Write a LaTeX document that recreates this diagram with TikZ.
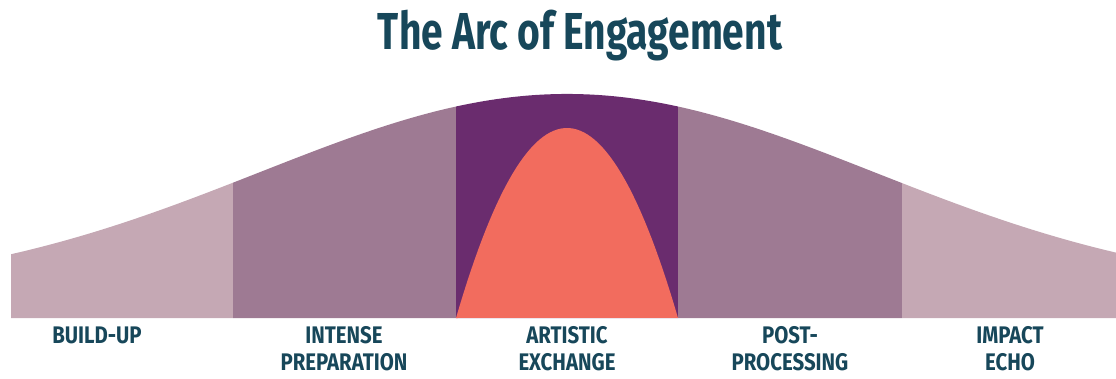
\documentclass[tikz,border=0pt]{standalone}
\usepackage{fontspec}
\setmainfont{Fira Sans}[FakeStretch=0.75]
\newfontfamily\phasefont{Fira Sans}[FakeStretch=0.85]

\definecolor{ink}{HTML}{17475A}
\definecolor{bandLight}{HTML}{C5A8B4}
\definecolor{bandMid}{HTML}{9E7A93}
\definecolor{bandDark}{HTML}{6A2C6E}
\definecolor{coral}{HTML}{F26C5E}

% height of the arc over x, x given in hundreds of pt from the centre
\newcommand{\archeight}[1]{85+199*exp(-(#1)*(#1)/18.9)}

\tikzset{
    phase/.style={font=\phasefont\bfseries\fontsize{24}{27}\selectfont, text=ink,
                  align=center, anchor=base, inner sep=0pt, text depth=0pt},
}

\begin{document}
\begin{tikzpicture}[x=1pt,y=1pt]
    \useasboundingbox (0,0) rectangle (1116,378);

    \node [font=\bfseries\fontsize{52}{60}\selectfont] [text=ink] [anchor=base] (title) at (580,328) {The Arc of Engagement};

    % five bands under the arc
    \foreach \from/\to/\col in {-5.56/-3.34/bandLight, -3.34/-1.11/bandMid, -1.11/1.11/bandDark,
                                 1.11/3.35/bandMid, 3.35/5.49/bandLight}
        \fill [\col] ({567+100*\from},60) -- plot [domain=\from:\to, samples=40] ({567+100*\x},{\archeight{\x}})
                     -- ({567+100*\to},60) -- cycle;

    % the exchange peak
    \fill [coral] plot [domain=-1:1, samples=60] ({567+111*\x},{60+190*(1-\x*\x)}) -- cycle;

    % two-line labels sit on the baseline of their lower line
    \node [phase] (buildup)  at (97,35)   {BUILD-UP};
    \node [phase] (prep)     at (344,8)   {INTENSE\\PREPARATION};
    \node [phase] (exchange) at (567,8)   {ARTISTIC\\EXCHANGE};
    \node [phase] (post)     at (790,8)   {POST-\\PROCESSING};
    \node [phase] (echo)     at (1010,8)  {IMPACT\\ECHO};
\end{tikzpicture}
\end{document}
